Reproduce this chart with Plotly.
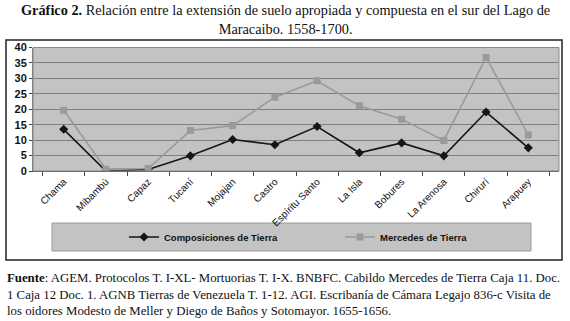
import plotly.graph_objects as go

categories = ["Chama", "Mibambú", "Capaz", "Tucaní", "Mojajan", "Castro",
              "Espíritu Santo", "La Isla", "Bobures", "La Arenosa", "Chirurí", "Arapuey"]
composiciones = [13.5, 0, 0.5, 4.9, 10.2, 8.5, 14.4, 5.9, 9.1, 4.9, 19.1, 7.5]
mercedes = [19.7, 0.6, 0.8, 13.1, 14.7, 23.9, 29.2, 21.1, 16.8, 9.9, 36.8, 11.7]
y_ticks = [0, 5, 10, 15, 20, 25, 30, 35, 40]

W, H = 570, 321
def px(x): return x / W
def py(y): return 1 - y / H

fig = go.Figure()
fig.add_trace(go.Scatter(
    x=categories, y=composiciones, name="<b>Composiciones de Tierra</b>",
    mode="lines+markers",
    line=dict(color="#151515", width=1.6),
    marker=dict(symbol="diamond", size=7, color="#151515"),
))
fig.add_trace(go.Scatter(
    x=categories, y=mercedes, name="<b>Mercedes de Tierra</b>",
    mode="lines+markers",
    line=dict(color="#9a9a9a", width=1.6),
    marker=dict(symbol="square", size=7, color="#9a9a9a"),
))

fig.update_layout(
    width=W, height=H,
    margin=dict(l=0, r=0, t=0, b=0),
    paper_bgcolor="white",
    plot_bgcolor="#c3c3c3",
    font=dict(family="Liberation Sans, Arial, sans-serif", color="#111"),
    showlegend=True,
    legend=dict(
        orientation="h", x=px(340), y=py(237), xanchor="center", yanchor="middle",
        bgcolor="rgba(0,0,0,0)", font=dict(size=9.5, family="Liberation Sans, Arial", color="#111"),
        entrywidth=171, entrywidthmode="pixels", itemwidth=30,
    ),
    xaxis=dict(
        domain=[px(33), px(559)],
        type="category",
        tickangle=-45,
        tickson="boundaries",
        ticks="outside", ticklen=4, tickcolor="#444",
        showline=True, linecolor="#555", linewidth=1,
        showgrid=False,
        automargin=False,
        tickfont=dict(size=10, family="Liberation Sans, Arial", color="#111"),
        fixedrange=True,
    ),
    yaxis=dict(
        domain=[py(171), py(47.5)],
        range=[0, 40],
        tickvals=y_ticks,
        ticks="outside", ticklen=3, tickcolor="#444",
        showgrid=True, gridcolor="#7f7f7f", gridwidth=1.2,
        showline=True, linecolor="#777", linewidth=1,
        automargin=False,
        tickfont=dict(size=11, family="Liberation Sans, Arial", color="#111", weight="bold"),
        zeroline=False,
        fixedrange=True,
    ),
    shapes=[
        dict(type="rect", xref="paper", yref="paper",
             x0=px(6), x1=px(562), y0=py(260), y1=py(40),
             line=dict(color="#222", width=1.5), fillcolor="rgba(0,0,0,0)", layer="below"),
        dict(type="rect", xref="paper", yref="paper",
             x0=px(33), x1=px(559), y0=py(171), y1=py(47.5),
             line=dict(color="#8a8a8a", width=1), fillcolor="rgba(0,0,0,0)", layer="above"),
        dict(type="rect", xref="paper", yref="paper",
             x0=px(52), x1=px(531), y0=py(251), y1=py(223),
             line=dict(color="#9a9a9a", width=1), fillcolor="#c3c3c3", layer="below"),
    ],
    annotations=[
        dict(xref="paper", yref="paper", x=0.5, y=py(0), xanchor="center", yanchor="top",
             showarrow=False, align="center",
             text="<b>Gráfico 2.</b> Relación entre la extensión de suelo apropiada y compuesta en el sur del Lago de<br>Maracaibo. 1558-1700.",
             font=dict(family="Liberation Serif, Times New Roman, serif", size=14.3, color="#111")),
        dict(xref="paper", yref="paper", x=px(5), y=py(268.5), xanchor="left", yanchor="top",
             showarrow=False, align="left",
             text="<b>Fuente</b>: AGEM. Protocolos T. I-XL- Mortuorias T. I-X. BNBFC. Cabildo Mercedes de Tierra Caja 11. Doc.<br>"
                  "1 Caja 12 Doc. 1. AGNB Tierras de Venezuela T. 1-12. AGI. Escribanía de Cámara Legajo 836-c Visita de<br>"
                  "los oidores Modesto de Meller y Diego de Baños y Sotomayor. 1655-1656.",
             font=dict(family="Liberation Serif, Times New Roman, serif", size=12.8, color="#111")),
    ],
)

fig.write_html("out.html", config={"displayModeBar": False},
               post_script="document.body.style.margin='0';")
